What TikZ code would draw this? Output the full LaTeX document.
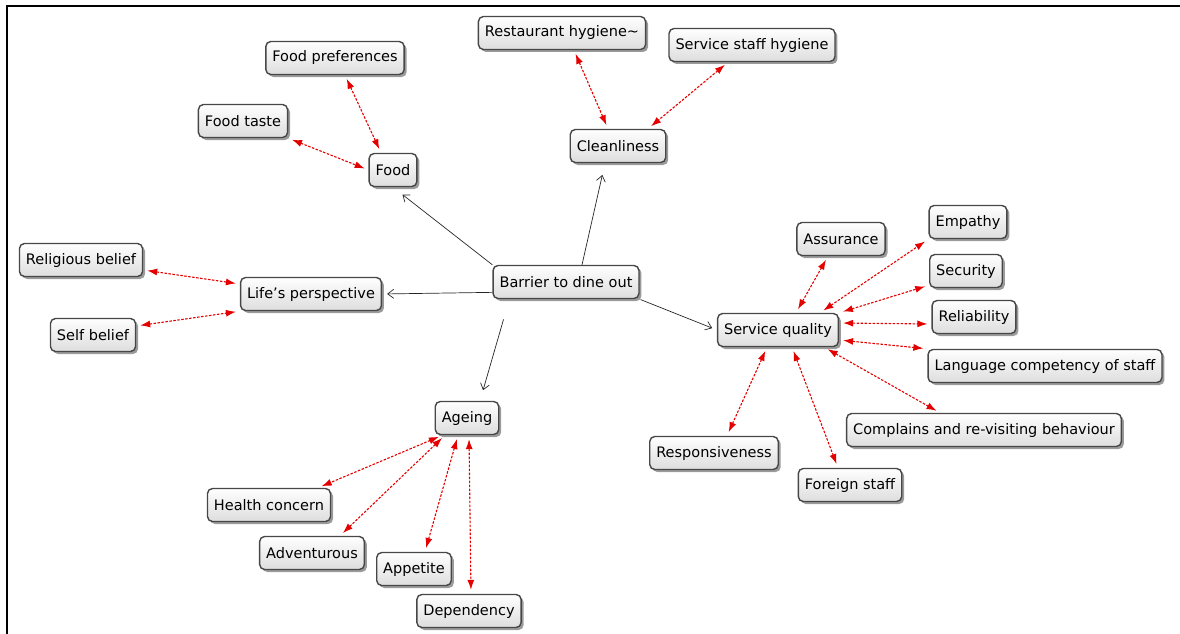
\documentclass[tikz,border=0pt]{standalone}
\usepackage{fontspec}
\setmainfont{DejaVu Sans}
\usepackage{tikz}
\usetikzlibrary{arrows.meta,shadows}

\begin{document}
\begin{tikzpicture}[x=1pt,y=-1pt,font=\fontsize{14.5}{16}\selectfont,box/.style={draw=black!72,line width=1.4pt,rounded corners=5pt,top color=white,bottom color=black!13,minimum height=33pt,inner xsep=6.5pt,drop shadow={shadow xshift=2.5pt,shadow yshift=-2.5pt,opacity=0.6,fill=black!65}},link/.style={-{Straight Barb[length=6pt,width=9pt]},black!85,line width=0.7pt},rel/.style={{Latex[length=10pt,width=7pt]}-{Latex[length=10pt,width=7pt]},red!90!black,line width=1.1pt,dash pattern=on 2.5pt off 1.5pt,shorten <=4pt,shorten >=4pt}]
\useasboundingbox (0,0) rectangle (1180,634);
\draw[line width=2pt] (1180,6) -- (7,6) -- (7,634);
% centre and themes
\node[box](bar) at (566,282){Barrier to dine out};
\node[box](food) at (393,170){Food};
\node[box](clean) at (618,146){Cleanliness};
\node[box](life) at (311,294){Life's perspective};
\node[box](sq) at (778,330){Service quality};
\node[box](age) at (467,418){Ageing};
% food
\node[box](pref) at (335,58){Food preferences};
\node[box](taste) at (243,121){Food taste};
% cleanliness
\node[box](rest) at (562,33){Restaurant hygiene\textasciitilde};
\node[box](staff) at (752,45){Service staff hygiene};
% life
\node[box](relig) at (81,260){Religious belief};
\node[box](self) at (93,335){Self belief};
% service quality
\node[box](assur) at (841,239){Assurance};
\node[box](emp) at (968,222){Empathy};
\node[box](sec) at (966,271){Security};
\node[box](reli) at (974,317){Reliability};
\node[box](lang) at (1045,366){Language competency of staff};
\node[box](comp) at (984,430){Complains and re-visiting behaviour};
\node[box](resp) at (714,453){Responsiveness};
\node[box](fore) at (850,485){Foreign staff};
% ageing
\node[box](health) at (269,505){Health concern};
\node[box](adv) at (312,553){Adventurous};
\node[box](app) at (414,569){Appetite};
\node[box](dep) at (469,611){Dependency};
% main links
\draw[link,shorten >=12pt] (bar.north west) -- (food.south);
\draw[link,shorten >=5pt] (bar.188) -- (life.east);
\draw[link,shorten >=12pt] ([xshift=16pt]bar.north) -- ([xshift=-13pt]clean.south);
\draw[link,shorten <=1pt,shorten >=5pt] (bar.south east) -- (sq.west);
\draw[link,shorten <=21pt,shorten >=11pt] ([xshift=17pt]bar.south west) -- ([xshift=13pt]age.north);
% relations
\draw[rel] (taste.south east) -- (food.west);
\draw[rel] ([xshift=10pt]pref.south) -- ([xshift=-12pt]food.north);
\draw[rel] ([xshift=12pt]rest.south) -- ([xshift=-10pt]clean.north);
\draw[rel] ([xshift=-24pt]staff.south) -- ([xshift=30pt]clean.north);
\draw[rel] ([yshift=-10pt]relig.east) -- ([yshift=10pt]life.west);
\draw[rel] ([yshift=9pt]self.east) -- (life.south west);
\draw[rel] ([xshift=18pt]sq.north) -- ([xshift=-13pt]assur.south);
\draw[rel] ([xshift=42pt]sq.north) -- (emp.south west);
\draw[rel] (sq.north east) -- ([yshift=3pt]sec.south west);
\draw[rel] ([yshift=7pt]sq.east) -- ([yshift=-7pt]reli.west);
\draw[rel] ([yshift=-10pt]sq.east) -- (lang.north west);
\draw[rel] ([xshift=-15pt]sq.south east) -- ([xshift=-44pt]comp.north);
\draw[rel] ([xshift=-11pt]sq.south) -- ([xshift=13pt]resp.north);
\draw[rel] ([xshift=14pt]sq.south) -- ([xshift=-12pt]fore.north);
\draw[rel] ([xshift=8pt]age.south west) -- ([xshift=49pt]health.north);
\draw[rel] ([xshift=-22pt]age.south) -- ([xshift=28pt]adv.north);
\draw[rel] ([xshift=-9pt]age.south) -- ([xshift=11pt]app.north);
\draw[rel] ([xshift=2pt]age.south) -- ([xshift=2pt]dep.north);
\end{tikzpicture}
\end{document}
